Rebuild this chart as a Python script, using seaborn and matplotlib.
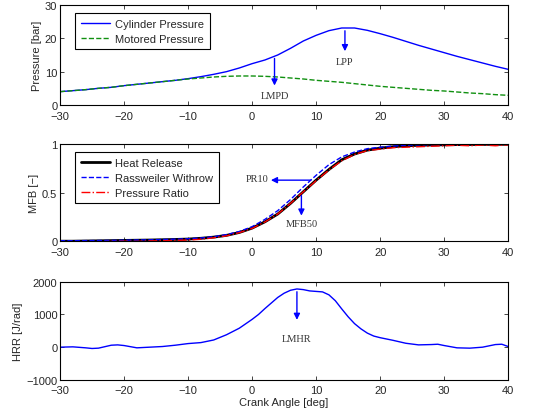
import numpy as np
import pandas as pd
import matplotlib
matplotlib.use("Agg")
import matplotlib.pyplot as plt
import seaborn as sns

# crank angle grid used for pressure and MFB traces
angle = list(range(-30, 41, 2))

cyl_pressure = [4.0, 4.3, 4.6, 5.0, 5.3, 5.8, 6.2, 6.6, 7.0, 7.4, 7.9, 8.5, 9.2,
                10.0, 11.1, 12.4, 13.5, 15.0, 17.0, 19.2, 20.9, 22.3, 23.1, 23.1,
                22.4, 21.4, 20.3, 19.1, 17.9, 16.8, 15.7, 14.6, 13.6, 12.6, 11.6, 10.7]
mot_pressure = [4.0, 4.3, 4.6, 5.0, 5.3, 5.8, 6.2, 6.6, 7.0, 7.4, 7.8, 8.1, 8.4,
                8.6, 8.7, 8.7, 8.6, 8.4, 8.1, 7.8, 7.4, 7.1, 6.8, 6.4, 6.0, 5.6,
                5.3, 5.0, 4.7, 4.4, 4.2, 3.9, 3.6, 3.4, 3.1, 2.9]

mfb_heat = [0.0, 0.0, 0.002, 0.004, 0.006, 0.008, 0.01, 0.012, 0.015, 0.018,
            0.022, 0.03, 0.042, 0.06, 0.09, 0.135, 0.2, 0.28, 0.39, 0.51, 0.63,
            0.74, 0.84, 0.9, 0.94, 0.96, 0.975, 0.985, 0.99, 0.993, 0.995, 0.997,
            0.998, 0.999, 1.0, 1.0]
mfb_rw = [0.005, 0.005, 0.006, 0.007, 0.008, 0.01, 0.012, 0.014, 0.017, 0.021,
          0.025, 0.033, 0.046, 0.068, 0.1, 0.15, 0.225, 0.315, 0.43, 0.56, 0.68,
          0.79, 0.87, 0.92, 0.955, 0.97, 0.982, 0.99, 0.995, 0.997, 0.998, 0.999,
          1.0, 1.0, 1.0, 1.0]
mfb_pr = [-0.005, -0.008, -0.005, -0.006, -0.003, 0.0, -0.002, 0.003, 0.005,
          0.008, 0.012, 0.02, 0.035, 0.055, 0.088, 0.132, 0.198, 0.28, 0.39,
          0.51, 0.625, 0.735, 0.83, 0.895, 0.935, 0.95, 0.965, 0.97, 0.975,
          0.98, 0.985, 0.99, 0.985, 0.993, 0.985, 0.995]

hrr_angle = [-30, -28, -26, -25, -24, -22, -21, -20, -18, -16, -14, -12, -10, -8,
             -6, -4, -2, 0, 1, 2, 3, 4, 5, 6, 7, 8, 9, 10, 11, 12, 13, 14, 15,
             16, 17, 18, 19, 20, 22, 24, 26, 28, 29, 30, 32, 34, 36, 38, 39, 40]
hrr = [0, 10, -20, -40, -30, 60, 70, 50, -20, 0, 20, 60, 110, 140, 220, 380,
       580, 850, 1000, 1180, 1350, 1520, 1650, 1740, 1780, 1760, 1720, 1705,
       1690, 1600, 1420, 1170, 930, 720, 560, 430, 340, 290, 210, 120, 70, 80,
       90, 50, -20, -30, 0, 80, 90, 20]

sns.set_style("ticks", {"xtick.direction": "in", "ytick.direction": "in",
                        "axes.edgecolor": "black"})
plt.rcParams["font.family"] = ["Liberation Sans", "DejaVu Sans"]
plt.rcParams["font.size"] = 8

fig = plt.figure(figsize=(5.56, 4.14), dpi=100)
ax1 = fig.add_axes([0.108, 0.744, 0.806, 0.2415])
ax2 = fig.add_axes([0.108, 0.415, 0.806, 0.234])
ax3 = fig.add_axes([0.108, 0.08, 0.806, 0.237])

ann_font = dict(family="Liberation Serif", fontsize=7.5, color="#333333")
arrow = dict(arrowstyle="-|>", color="blue", lw=1, mutation_scale=9)

# pressure
sns.lineplot(x=angle, y=cyl_pressure, ax=ax1, color="blue", lw=1,
             label="Cylinder Pressure")
sns.lineplot(x=angle, y=mot_pressure, ax=ax1, color="#109010", lw=1,
             linestyle="--", label="Motored Pressure")
ax1.annotate("", xy=(3.5, 5.0), xytext=(3.5, 14.8), arrowprops=arrow)
ax1.text(3.5, 2.8, "LMPD", ha="center", va="center", **ann_font)
ax1.annotate("", xy=(14.5, 15.3), xytext=(14.5, 23.1), arrowprops=arrow)
ax1.text(14.5, 13.0, "LPP", ha="center", va="center", **ann_font)
ax1.set_ylim(0, 30)
ax1.set_yticks([0, 10, 20, 30])
ax1.set_ylabel("Pressure [bar]", labelpad=2)

# mass fraction burned
sns.lineplot(x=angle, y=mfb_heat, ax=ax2, color="black", lw=2,
             label="Heat Release")
sns.lineplot(x=angle, y=mfb_rw, ax=ax2, color="blue", lw=1, linestyle="--",
             label="Rassweiler Withrow")
sns.lineplot(x=angle, y=mfb_pr, ax=ax2, color="red", lw=1, linestyle="-.",
             label="Pressure Ratio")
ax2.annotate("", xy=(2.5, 0.63), xytext=(9.6, 0.63), arrowprops=arrow)
ax2.text(2.6, 0.645, "PR10", ha="right", va="center", **ann_font)
ax2.annotate("", xy=(7.7, 0.235), xytext=(7.7, 0.5), arrowprops=arrow)
ax2.text(7.7, 0.18, "MFB50", ha="center", va="center", **ann_font)
ax2.set_ylim(0, 1)
ax2.set_yticks([0, 0.5, 1])
ax2.set_yticklabels(["0", "0.5", "1"])
ax2.set_ylabel("MFB [\u2212]", labelpad=2)

# heat release rate
sns.lineplot(x=hrr_angle, y=hrr, ax=ax3, color="blue", lw=1)
ax3.annotate("", xy=(7, 750), xytext=(7, 1780), arrowprops=arrow)
ax3.text(7, 270, "LMHR", ha="center", va="center", **ann_font)
ax3.set_ylim(-1000, 2000)
ax3.set_yticks([-1000, 0, 1000, 2000])
ax3.set_ylabel("HRR [J/rad]", labelpad=2)
ax3.set_xlabel("Crank Angle [deg]", labelpad=1)

for ax in (ax1, ax2, ax3):
    ax.set_xlim(-30, 40)
    ax.set_xticks(range(-30, 41, 10))
    ax.tick_params(top=True, right=True, length=3, width=0.6, labelsize=8)
    ax.tick_params(axis="x", pad=4)
    ax.tick_params(axis="y", pad=2)
    for s in ax.spines.values():
        s.set_linewidth(0.8)
        s.set_visible(True)

for ax in (ax1, ax2):
    leg = ax.legend(loc="upper left", bbox_to_anchor=(0.022, 0.975),
                    fancybox=False, edgecolor="black", framealpha=1,
                    fontsize=8, handlelength=2.6, borderpad=0.5,
                    labelspacing=0.45, handletextpad=0.5)
    leg.get_frame().set_linewidth(0.8)

fig.savefig("out.png", dpi=100)
